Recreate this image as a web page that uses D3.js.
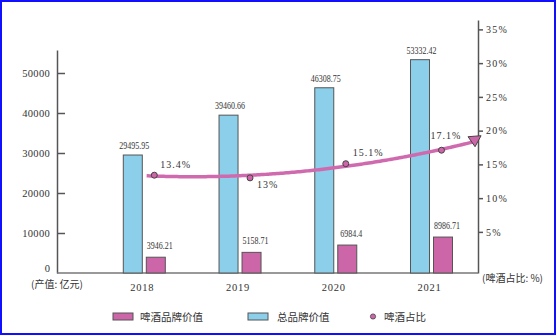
<!DOCTYPE html>
<html>
<head>
<meta charset="utf-8">
<script src="https://cdn.jsdelivr.net/npm/d3@7"></script>
<style>
  html, body { margin: 0; padding: 0; background: #fff; }
  svg { display: block; }
  .num { font-family: "Liberation Serif", "DejaVu Serif", serif; fill: #333; }
  .cjk { font-family: "Noto Sans CJK SC", sans-serif; fill: #333; }
</style>
</head>
<body>
<svg id="chart" width="557" height="336"></svg>
<script>
// ---- data ----
const years = ["2018", "2019", "2020", "2021"];
const totalValues = [29495.95, 39460.66, 46308.75, 53332.42];
const beerValues = [3946.21, 5158.71, 6984.4, 8986.71];
const beerShare = [13.4, 13, 15.1, 17.1];
const shareLabels = ["13.4%", "13%", "15.1%", "17.1%"];
const totalLabels = ["29495.95", "39460.66", "46308.75", "53332.42"];
const beerLabels = ["3946.21", "5158.71", "6984.4", "8986.71"];
const leftTicks = [10000, 20000, 30000, 40000, 50000];
const rightTicks = [5, 10, 15, 20, 25, 30, 35];
const legendLabels = ["啤酒品牌价值", "总品牌价值", "啤酒占比"];
const leftAxisTitle = "(产值: 亿元)";
const rightAxisTitle = "(啤酒占比: %)";

// ---- styles ----
const BLUE = "#8BCFEA", PINK = "#CC66A8", LINE = "#D06AAE", EDGE = "#555";

const svg = d3.select("#chart");

// frame
svg.append("rect").attr("x", 1).attr("y", 1).attr("width", 554).attr("height", 333)
  .attr("fill", "none").attr("stroke", "#1010ff").attr("stroke-width", 2);

const x0 = 57, x1 = 478, yBase = 273;

const x = d3.scalePoint().domain(years).range([144.3, 431.5]);
const inner = d3.scaleBand().domain(["total", "beer"]).range([-21, 21]).paddingInner(0.174);
const yL = d3.scaleLinear().domain([0, 55750]).range([yBase, 50]);
const yR = d3.scaleLinear().domain([-1.09, 36.39]).range([yBase, 20]);

// left axis
const gL = svg.append("g").attr("transform", `translate(${x0},0)`)
  .call(d3.axisLeft(yL).tickValues(leftTicks).tickSizeInner(-8).tickSizeOuter(0).tickPadding(7).tickFormat(d3.format("d")));
gL.select(".domain").attr("stroke", EDGE).attr("stroke-width", 1.5);
gL.selectAll(".tick line").attr("stroke", EDGE).attr("stroke-width", 1.5);
gL.selectAll(".tick text").attr("class", "num").attr("font-size", 10.5).attr("letter-spacing", 0.3);
// zero label
svg.append("text").attr("class", "num").attr("x", x0 - 7).attr("y", yBase - 1.5)
  .attr("text-anchor", "end").attr("font-size", 10.5).text("0");

// right axis
const gR = svg.append("g").attr("transform", `translate(${x1},0)`)
  .call(d3.axisRight(yR).tickValues(rightTicks).tickSizeInner(5).tickSizeOuter(0).tickPadding(3).tickFormat(d => d + "%"));
gR.select(".domain").attr("stroke", EDGE).attr("stroke-width", 1.5);
gR.selectAll(".tick line").attr("stroke", EDGE).attr("stroke-width", 1.5);
gR.selectAll(".tick text").attr("class", "num").attr("font-size", 10).attr("letter-spacing", 1.2);

// baseline
svg.append("line").attr("x1", x0).attr("x2", x1).attr("y1", yBase).attr("y2", yBase)
  .attr("stroke", "#777").attr("stroke-width", 1.5);

// axis titles
svg.append("text").attr("class", "cjk").attr("x", 31).attr("y", 288).attr("font-size", 10).text(leftAxisTitle);
svg.append("text").attr("class", "cjk").attr("x", 482).attr("y", 282).attr("font-size", 10).text(rightAxisTitle);

// year labels
svg.selectAll(".year").data(years).enter().append("text")
  .attr("class", "num year").attr("x", d => x(d) - 2).attr("y", 291)
  .attr("text-anchor", "middle").attr("font-size", 10.5).attr("letter-spacing", 0.8).text(d => d);

// bars
const groups = svg.selectAll(".grp").data(years).enter().append("g")
  .attr("transform", d => `translate(${x(d)},0)`);
groups.append("rect")
  .attr("x", inner("total")).attr("width", inner.bandwidth())
  .attr("y", (d, i) => yL(totalValues[i])).attr("height", (d, i) => yBase - yL(totalValues[i]))
  .attr("fill", BLUE).attr("stroke", EDGE).attr("stroke-width", 1);
groups.append("rect")
  .attr("x", inner("beer")).attr("width", inner.bandwidth())
  .attr("y", (d, i) => yL(beerValues[i])).attr("height", (d, i) => yBase - yL(beerValues[i]))
  .attr("fill", PINK).attr("stroke", EDGE).attr("stroke-width", 1);
groups.append("text").attr("class", "num")
  .attr("transform", (d, i) => `translate(${inner("total") + inner.bandwidth() / 2 + 1.5},${yL(totalValues[i]) - 6}) scale(0.84,1)`)
  .attr("text-anchor", "middle").attr("font-size", 9.5).text((d, i) => totalLabels[i]);
groups.append("text").attr("class", "num")
  .attr("transform", (d, i) => `translate(${inner("beer") + inner.bandwidth() / 2 + 4},${yL(beerValues[i]) - 8.5}) scale(0.84,1)`)
  .attr("text-anchor", "middle").attr("font-size", 9.5).text((d, i) => beerLabels[i]);

// trend curve (least-squares quadratic through the share values)
const step = x(years[1]) - x(years[0]);
const ptOff = 10;
const n = beerShare.length;
const ts = d3.range(n);
const um = d3.mean(ts);
const us = ts.map(t => t - um);
const u2m = d3.mean(us.map(u => u * u));
const ws = us.map(u => u * u - u2m);
const ca = d3.mean(beerShare);
const cb = d3.sum(us.map((u, i) => u * beerShare[i])) / d3.sum(us.map(u => u * u));
const cc = d3.sum(ws.map((w, i) => w * beerShare[i])) / d3.sum(ws.map(w => w * w));
const fit = t => { const u = t - um; return ca + cb * u + cc * (u * u - u2m); };
const tx = t => x(years[0]) + ptOff + t * step;
const curvePts = d3.range(-0.08, 3.36, 0.02).map(t => [tx(t), yR(fit(t))]);

svg.append("defs").append("marker")
  .attr("id", "arrow").attr("markerUnits", "userSpaceOnUse")
  .attr("viewBox", "-10 -10 20 20").attr("markerWidth", 20).attr("markerHeight", 20)
  .attr("refX", 0).attr("refY", 0).attr("orient", 0)
  .append("path").attr("d", "M-6,-5 L7,-6 L1,5 Z")
  .attr("fill", PINK).attr("stroke", "#444").attr("stroke-width", 1);

svg.append("path").datum(curvePts)
  .attr("d", d3.line().curve(d3.curveBasis))
  .attr("fill", "none").attr("stroke", LINE).attr("stroke-width", 3.5)
  .attr("marker-end", "url(#arrow)");

// points
svg.selectAll(".pt").data(beerShare).enter().append("circle")
  .attr("cx", (d, i) => tx(i)).attr("cy", d => yR(d)).attr("r", 3)
  .attr("fill", PINK).attr("stroke", "#444").attr("stroke-width", 1);

// share labels
const labOff = [[6, -7], [7, 10], [7, -8], [-11, -11]];
svg.selectAll(".shl").data(shareLabels).enter().append("text")
  .attr("class", "num").attr("x", (d, i) => tx(i) + labOff[i][0]).attr("y", (d, i) => yR(beerShare[i]) + labOff[i][1])
  .attr("font-size", 10).attr("letter-spacing", 1).text(d => d);

// legend
const lg = svg.append("g");
lg.append("rect").attr("x", 113).attr("y", 313).attr("width", 20).attr("height", 7)
  .attr("fill", PINK).attr("stroke", EDGE).attr("stroke-width", 1);
lg.append("text").attr("class", "cjk").attr("x", 140).attr("y", 320.5).attr("font-size", 10.5).text(legendLabels[0]);
lg.append("rect").attr("x", 248).attr("y", 313).attr("width", 20).attr("height", 7)
  .attr("fill", BLUE).attr("stroke", EDGE).attr("stroke-width", 1);
lg.append("text").attr("class", "cjk").attr("x", 277).attr("y", 320.5).attr("font-size", 10.5).text(legendLabels[1]);
lg.append("circle").attr("cx", 373).attr("cy", 316.5).attr("r", 2.6)
  .attr("fill", PINK).attr("stroke", "#444").attr("stroke-width", 0.8);
lg.append("text").attr("class", "cjk").attr("x", 384).attr("y", 320.5).attr("font-size", 10.5).text(legendLabels[2]);
</script>
</body>
</html>
